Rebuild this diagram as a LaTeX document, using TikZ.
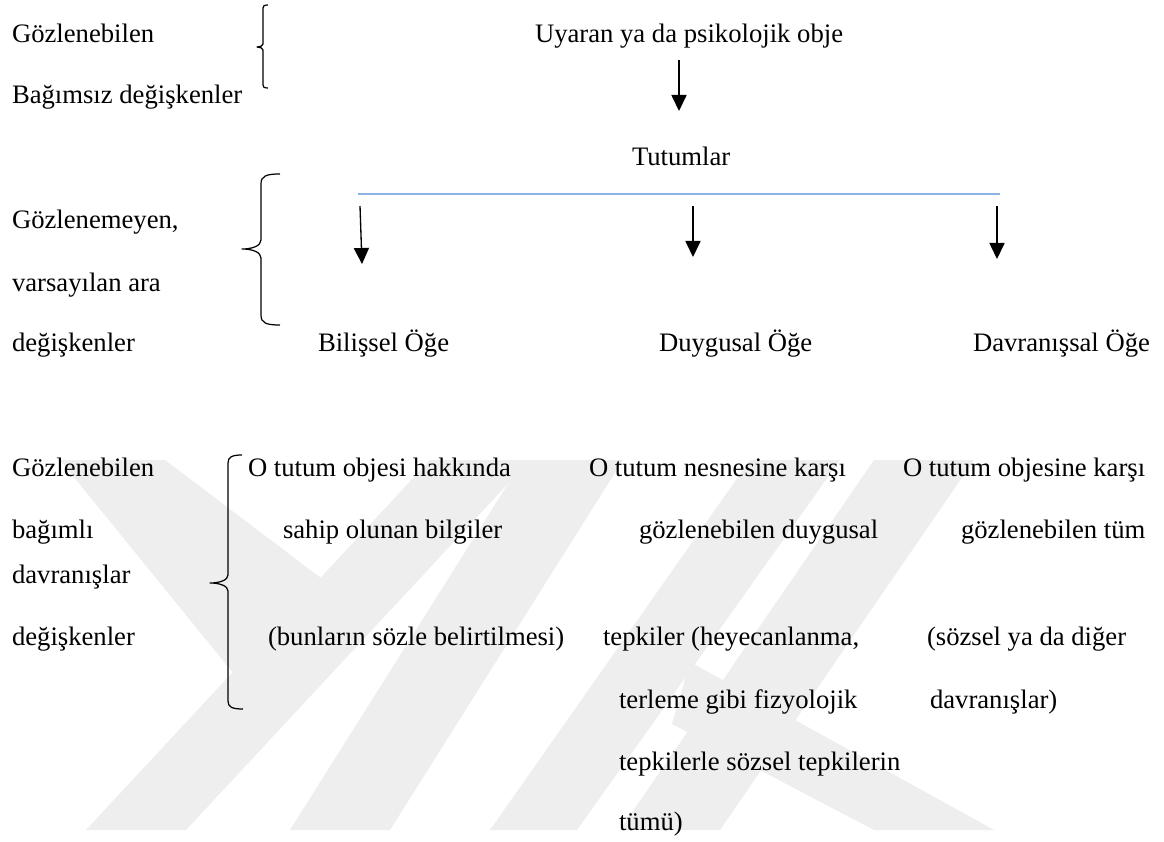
\documentclass[tikz,border=0pt]{standalone}
\usepackage{fontspec}
\setmainfont{Liberation Serif}
\usetikzlibrary{arrows.meta}

\definecolor{linkblue}{RGB}{141,179,226}
\definecolor{markgray}{RGB}{238,238,238}

\tikzset{
  txt/.style={inner sep=0pt, outer sep=0pt, anchor=base west,
              font=\fontsize{12pt}{14pt}\selectfont},
  downarrow/.style={line width=0.6pt,
              -{Triangle[width=6.8pt,length=7.2pt]}},
  bracepath/.style={line width=0.55pt, line join=round},
  band/.style={fill=markgray, draw=none},
}

\begin{document}
\begin{tikzpicture}[x=0.45pt, y=-0.45pt]
  \useasboundingbox (0,0) rectangle (1164,842);
  \fill[white] (0,0) rectangle (1164,842);

  % faint background emblem of diagonal bands
  \fill[band] (60,460) -- (165,460) -- (342,594) -- (330,620) -- (247,690) -- cycle;
  \fill[band] (430,460) -- (530,460) -- (186,830) -- (86,830) -- cycle;
  \fill[band] (523,460) -- (623,460) -- (390,830) -- (290,830) -- cycle;
  \fill[band] (750,460) -- (840,460) -- (577,830) -- (490,830) -- cycle;
  \fill[band] (874,460) -- (974,460) -- (720,830) -- (620,830) -- cycle;
  \fill[band] (690,662) -- (994,830) -- (874,830) -- (672,724) -- cycle;

  % upper block: observable independent variables
  \node[txt] (gozA) at (12,43) {Gözlenebilen};
  \node[txt] (bagimsiz) at (12,104) {Bağımsız değişkenler};
  \node[txt] (uyaran) at (535,43) {Uyaran ya da psikolojik obje};
  \node[txt] (tutumlar) at (632,166) {Tutumlar};

  % middle block: intervening variables
  \node[txt] (gozlenemeyen) at (12,229) {Gözlenemeyen,};
  \node[txt] (varsayilan) at (12,291) {varsayılan ara};
  \node[txt] (degiskenA) at (12,352) {değişkenler};
  \node[txt] (bilissel) at (318,352) {Bilişsel Öğe};
  \node[txt] (duygusal) at (659,352) {Duygusal Öğe};
  \node[txt] (davranissal) at (973,352) {Davranışsal Öğe};

  % lower block: observable dependent variables
  \node[txt] (gozB) at (12,476) {Gözlenebilen};
  \node[txt] (bagimli) at (12,538) {bağımlı};
  \node[txt] (davranislar) at (12,583) {davranışlar};
  \node[txt] (degiskenB) at (12,645) {değişkenler};

  \node[txt] (k1a) at (248,476) {O tutum objesi hakkında};
  \node[txt] (k1b) at (283,538) {sahip olunan bilgiler};
  \node[txt] (k1c) at (268,645) {(bunların sözle belirtilmesi)};

  \node[txt] (k2a) at (589,476) {O tutum nesnesine karşı};
  \node[txt] (k2b) at (639,538) {gözlenebilen duygusal};
  \node[txt] (k2c) at (603,645) {tepkiler (heyecanlanma,};
  \node[txt] (k2d) at (619,708) {terleme gibi fizyolojik};
  \node[txt] (k2e) at (619,770) {tepkilerle sözsel tepkilerin};
  \node[txt] (k2f) at (619,830) {tümü)};

  \node[txt] (k3a) at (903,476) {O tutum objesine karşı};
  \node[txt] (k3b) at (961,538) {gözlenebilen tüm};
  \node[txt] (k3c) at (927,645) {(sözsel ya da diğer};
  \node[txt] (k3d) at (930,708) {davranışlar)};

  % braces grouping the row labels
  \draw[bracepath] (268,5) .. controls (264,5) and (263,6) .. (263,8)
    -- (263,44) .. controls (263,46) and (260,47) .. (257,47)
    .. controls (260,47) and (263,48) .. (263,50)
    -- (263,85) .. controls (263,87) and (264,88) .. (268,88);
  \draw[bracepath] (280,174) .. controls (266,174) and (261,176) .. (261,184)
    -- (261,240) .. controls (261,246) and (252,249) .. (242,249)
    .. controls (252,249) and (261,252) .. (261,258)
    -- (261,315) .. controls (261,323) and (266,325) .. (280,325);
  \draw[bracepath] (242,455) .. controls (232,455) and (228,457) .. (228,463)
    -- (228,575) .. controls (228,580) and (220,583) .. (210,583)
    .. controls (220,583) and (228,586) .. (228,591)
    -- (228,701) .. controls (228,707) and (232,709) .. (243,709);

  % arrow from the stimulus to the attitudes
  \coordinate (a0s) at (679,60);
  \coordinate (a0e) at (679,111);
  \draw[downarrow] (a0s) -- (a0e);

  % branching line under the attitudes
  \coordinate (bl) at (358,194);
  \coordinate (br) at (1000,194);
  \draw[linkblue, line width=1pt] (bl) -- (br);

  % arrows to the three components
  \coordinate (a1s) at (360,206);
  \coordinate (a1e) at (362,264);
  \coordinate (a2s) at (693,206);
  \coordinate (a2e) at (693,257);
  \coordinate (a3s) at (997,206);
  \coordinate (a3e) at (997,259);
  \draw[downarrow] (a1s) -- (a1e);
  \draw[downarrow] (a2s) -- (a2e);
  \draw[downarrow] (a3s) -- (a3e);
\end{tikzpicture}
\end{document}
